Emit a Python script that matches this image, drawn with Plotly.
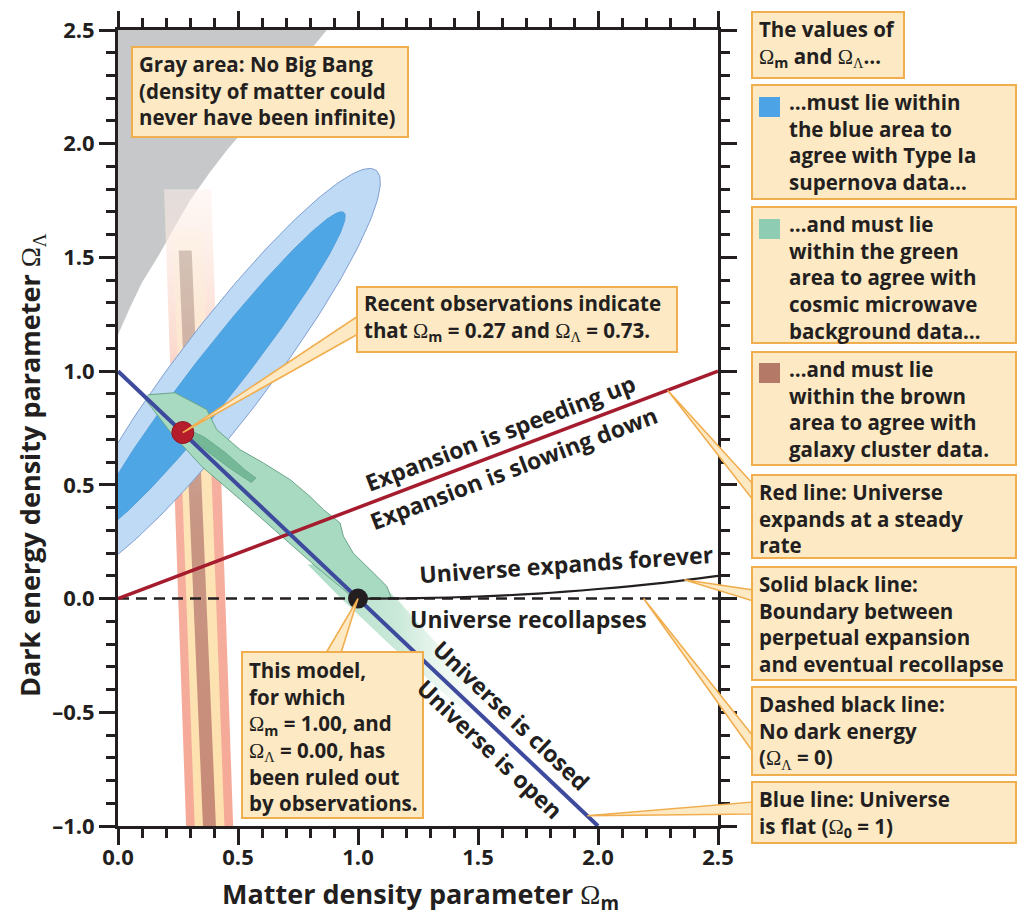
import numpy as np
import plotly.graph_objects as go

# ---------------- data ----------------
x_tick_vals = [0.0, 0.5, 1.0, 1.5, 2.0, 2.5]
x_tick_text = ["0.0", "0.5", "1.0", "1.5", "2.0", "2.5"]
y_tick_vals = [-1.0, -0.5, 0.0, 0.5, 1.0, 1.5, 2.0, 2.5]
y_tick_text = ["\u20131.0", "\u20130.5", "0.0", "0.5", "1.0", "1.5", "2.0", "2.5"]

# gray "no big bang" boundary
nobang_om = [0.0, 0.05, 0.10, 0.17, 0.24, 0.30, 0.38, 0.46, 0.56, 0.66, 0.76, 0.87]
nobang_ol = [1.16, 1.28, 1.39, 1.51, 1.64, 1.75, 1.87, 1.98, 2.10, 2.23, 2.36, 2.50]

# supernova confidence ellipses: centre, semi-major vector, semi-minor vector
sn_outer_center = (0.432, 0.99)
sn_outer_major = (0.643, 0.893)
sn_outer_minor = (-0.153, 0.122)
sn_inner_center = (0.42, 0.995)
sn_inner_major = (0.521, 0.703)
sn_inner_minor = (-0.078, 0.064)

# CMB region
cmb_om = [0.125, 0.2375, 0.37, 0.411, 0.508, 0.606, 0.717, 0.80, 0.856, 0.925, 0.939, 0.98, 1.064, 1.12, 1.14,
          0.985, 0.82, 0.665, 0.51, 0.349, 0.22, 0.14, 0.11]
cmb_ol = [0.896, 0.905, 0.831, 0.743, 0.655, 0.596, 0.523, 0.449, 0.391, 0.333, 0.274, 0.20, 0.113, 0.054, 0.0,
          0.0, 0.145, 0.29, 0.435, 0.581, 0.73, 0.84, 0.88]
cmb_core_om = [0.29, 0.36, 0.45, 0.53, 0.575, 0.555, 0.47, 0.38, 0.31]
cmb_core_ol = [0.745, 0.71, 0.64, 0.565, 0.53, 0.51, 0.57, 0.64, 0.70]
cmb_tail_om = [1.01, 1.16, 1.33, 1.50, 1.64, 1.56, 1.34, 1.13, 0.93, 0.79]
cmb_tail_ol = [0.15, 0.0, -0.2, -0.4, -0.6, -0.6, -0.4, -0.2, 0.0, 0.15]

# galaxy cluster bands (corner points)
gc_outer_om = [0.192, 0.388, 0.483, 0.287]
gc_outer_ol = [1.80, 1.80, -1.1, -1.1]
gc_mid_om = [0.228, 0.352, 0.447, 0.323]
gc_mid_ol = [1.62, 1.62, -1.1, -1.1]
gc_core_om = [0.253, 0.307, 0.412, 0.358]
gc_core_ol = [1.53, 1.53, -1.1, -1.1]

# model lines
flat_om = [0.0, 2.0]
flat_ol = [1.0, -1.0]
steady_om = [0.0, 2.5]
steady_ol = [0.0, 1.0]
nolambda_om = [0.0, 2.5]
nolambda_ol = [0.0, 0.0]
bound_om = [1.0, 1.25, 1.5, 1.75, 2.0, 2.25, 2.5]
bound_ol = [0.0, 0.002, 0.009, 0.022, 0.042, 0.067, 0.100]

# special points
obs_point = (0.27, 0.73)
model_point = (1.00, 0.00)

# ---------------- helpers ----------------
INK = "#231f20"
BOX_FILL = "#fde9c4"
BOX_LINE = "#f1ae4f"
FONT = "Open Sans, Noto Sans, sans-serif"
BOX_SIZE = 20.5
LABEL_SIZE = 23


def px2p(px, py):
    return ((px - 118) / 600.0, (826 - py) / 796.0)


def d2p(x, y):
    return (x / 2.5, (y + 1.0) / 3.5)


def ellipse(center, major, minor, n=200):
    t = np.linspace(0, 2 * np.pi, n)
    xs = center[0] + major[0] * np.cos(t) + minor[0] * np.sin(t)
    ys = center[1] + major[1] * np.cos(t) + minor[1] * np.sin(t)
    return xs, ys


OMG = '<span style="font-family:Liberation Serif;font-weight:normal">\u03a9</span>'
LAM = '<span style="font-family:Liberation Serif;font-weight:normal">\u039b</span>'
Om = OMG + "<sub>m</sub>"
OL = OMG + "<sub>" + LAM + "</sub>"
O0 = OMG + "<sub>0</sub>"

fig = go.Figure()

# gray region
fig.add_trace(go.Scatter(x=nobang_om + [0.0], y=nobang_ol + [2.5], fill="toself", mode="lines",
                         line=dict(width=0), fillcolor="#c7c8ca", hoverinfo="skip"))

# galaxy cluster bands
fig.add_trace(go.Scatter(x=gc_outer_om, y=gc_outer_ol, fill="toself", mode="lines", line=dict(width=0),
                         fillgradient=dict(type="vertical",
                                           colorscale=[[0, "rgb(245,168,150)"], [0.6, "rgb(246,176,160)"],
                                                       [0.74, "rgb(251,215,203)"], [1, "rgba(253,240,234,0.5)"]]),
                         hoverinfo="skip"))
fig.add_trace(go.Scatter(x=gc_mid_om, y=gc_mid_ol, fill="toself", mode="lines", line=dict(width=0),
                         fillgradient=dict(type="vertical",
                                           colorscale=[[0, "rgb(253,224,172)"], [0.62, "rgb(253,228,184)"],
                                                       [1, "rgba(253,242,226,0.4)"]]),
                         hoverinfo="skip"))
fig.add_trace(go.Scatter(x=gc_core_om, y=gc_core_ol, fill="toself", mode="lines", line=dict(width=0),
                         fillgradient=dict(type="vertical",
                                           colorscale=[[0, "rgb(199,138,118)"], [0.55, "rgb(200,150,132)"],
                                                       [1, "rgb(212,194,182)"]]),
                         hoverinfo="skip"))

# supernova ellipses
ex, ey = ellipse(sn_outer_center, sn_outer_major, sn_outer_minor)
fig.add_trace(go.Scatter(x=ex, y=ey, fill="toself", mode="lines", line=dict(color="#7f9ed3", width=1),
                         fillcolor="#bfdaf4", hoverinfo="skip"))
ex, ey = ellipse(sn_inner_center, sn_inner_major, sn_inner_minor)
fig.add_trace(go.Scatter(x=ex, y=ey, fill="toself", mode="lines", line=dict(color="#4a9ad8", width=0.8),
                         fillcolor="#4fa6e4", hoverinfo="skip"))

# CMB
fig.add_trace(go.Scatter(x=cmb_tail_om, y=cmb_tail_ol, fill="toself", mode="lines", line=dict(width=0),
                         fillgradient=dict(type="horizontal",
                                           colorscale=[[0, "rgba(165,218,192,0.95)"], [0.45, "rgba(190,228,208,0.8)"],
                                                       [1, "rgba(255,255,255,0)"]]),
                         hoverinfo="skip"))
fig.add_trace(go.Scatter(x=cmb_om, y=cmb_ol, fill="toself", mode="lines", line=dict(color="#6aa58b", width=1),
                         fillcolor="#a8dac1", hoverinfo="skip"))
fig.add_trace(go.Scatter(x=cmb_core_om, y=cmb_core_ol, fill="toself", mode="lines",
                         line=dict(color="#5c9e82", width=0.6), fillcolor="#74b898", hoverinfo="skip"))

# lines
fig.add_trace(go.Scatter(x=nolambda_om, y=nolambda_ol, mode="lines",
                         line=dict(color=INK, width=2.5, dash="11px,7px"), hoverinfo="skip"))
fig.add_trace(go.Scatter(x=bound_om, y=bound_ol, mode="lines", line=dict(color=INK, width=2.2, shape="spline"),
                         hoverinfo="skip"))
fig.add_trace(go.Scatter(x=steady_om, y=steady_ol, mode="lines", line=dict(color="#a51c2f", width=3.5),
                         hoverinfo="skip"))
fig.add_trace(go.Scatter(x=flat_om, y=flat_ol, mode="lines", line=dict(color="#3e4a9e", width=4),
                         hoverinfo="skip"))

# points
fig.add_trace(go.Scatter(x=[obs_point[0]], y=[obs_point[1]], mode="markers",
                         marker=dict(size=22, color="#b51d2c", line=dict(color="#8e1522", width=1)),
                         hoverinfo="skip", cliponaxis=False))
fig.add_trace(go.Scatter(x=[model_point[0]], y=[model_point[1]], mode="markers",
                         marker=dict(size=20, color=INK), hoverinfo="skip", cliponaxis=False))

shapes = []
annotations = []


def wedge(tip, b1, b2):
    pts = [tip, px2p(*b1), px2p(*b2)]
    path = "M {} {} L {} {} L {} {} Z".format(pts[0][0], pts[0][1], pts[1][0], pts[1][1], pts[2][0], pts[2][1])
    shapes.append(dict(type="path", xref="paper", yref="paper", path=path, fillcolor=BOX_FILL,
                       line=dict(color=BOX_LINE, width=1.6), layer="above"))


# pointer wedges
wedge(d2p(*obs_point), (358, 316), (358, 334))
wedge(d2p(*model_point), (326, 653), (341, 653))
wedge(d2p(2.29, 0.4 * 2.29), (753, 484), (753, 500))
wedge(d2p(2.36, 0.083), (753, 590), (753, 601))
wedge(d2p(2.19, 0.0), (753, 736), (753, 752))
wedge(d2p(1.955, -0.955), (753, 802), (753, 814))


def box(x0, y0, x1, y1):
    a = px2p(x0, y0)
    b = px2p(x1, y1)
    shapes.append(dict(type="rect", xref="paper", yref="paper", x0=a[0], y0=b[1], x1=b[0], y1=a[1],
                       fillcolor=BOX_FILL, line=dict(color=BOX_LINE, width=2), layer="above"))


def text(px, py, s, size=BOX_SIZE):
    p = px2p(px, py)
    annotations.append(dict(xref="paper", yref="paper", x=p[0], y=p[1], xanchor="left", yanchor="top",
                            text=s, showarrow=False, align="left",
                            font=dict(family=FONT, size=size, color=INK, weight=700)))


def square(x0, y0, color):
    a = px2p(x0, y0)
    b = px2p(x0 + 21, y0 + 20)
    shapes.append(dict(type="rect", xref="paper", yref="paper", x0=a[0], y0=b[1], x1=b[0], y1=a[1],
                       fillcolor=color, line=dict(width=0), layer="above"))


boxes = [
    ((132, 47, 408, 137), (137, 48), "Gray area: No Big Bang<br>(density of matter could<br>never have been infinite)"),
    ((357, 287, 677, 352), (362, 287), "Recent observations indicate<br>that " + Om + " = 0.27 and " + OL + " = 0.73."),
    ((242, 652, 423, 818), (247, 654), "This model,<br>for which<br>" + Om + " = 1.00, and<br>" + OL +
     " = 0.00, has<br>been ruled out<br>by observations."),
    ((752, 12, 904, 78), (757, 13), "The values of<br>" + Om + " and " + OL + "\u2026"),
    ((752, 85, 1016, 199), (787, 86), "\u2026must lie within<br>the blue area to<br>agree with Type Ia<br>supernova data\u2026"),
    ((752, 207, 1016, 343), (787, 208), "\u2026and must lie<br>within the green<br>area to agree with<br>cosmic microwave<br>background data\u2026"),
    ((752, 352, 1016, 465), (787, 353), "\u2026and must lie<br>within the brown<br>area to agree with<br>galaxy cluster data."),
    ((752, 475, 1016, 558), (757, 476), "Red line: Universe<br>expands at a steady<br>rate"),
    ((752, 567, 1016, 680), (757, 568), "Solid black line:<br>Boundary between<br>perpetual expansion<br>and eventual recollapse"),
    ((752, 687, 1016, 775), (757, 688), "Dashed black line:<br>No dark energy<br>(" + OL + " = 0)"),
    ((752, 782, 1016, 843), (757, 783), "Blue line: Universe<br>is flat (" + O0 + " = 1)"),
]
for (bx, tp, s) in boxes:
    box(*bx)
    text(tp[0], tp[1], s)

square(759, 97, "#4ca3e6")
square(759, 219, "#8ecdb4")
square(759, 363, "#b57a67")


# in-plot labels
def label(x, y, s, angle=0, size=LABEL_SIZE):
    annotations.append(dict(xref="x", yref="y", x=x, y=y, text=s, showarrow=False, textangle=angle,
                            xanchor="center", yanchor="middle",
                            font=dict(family=FONT, size=size, color=INK, weight=700)))


label(1.59, 0.729, "Expansion is speeding up", angle=-20.8)
label(1.646, 0.575, "Expansion is slowing down", angle=-20.8)
label(1.867, 0.15, "Universe expands forever", angle=-4)
label(1.71, -0.092, "Universe recollapses")
label(1.638, -0.514, "Universe is closed", angle=43.5)
label(1.55, -0.663, "Universe is open", angle=43.5)

# axis titles
p = px2p(420, 895)
annotations.append(dict(xref="paper", yref="paper", x=p[0], y=p[1], xanchor="center", yanchor="middle",
                        text="Matter density parameter " + Om, showarrow=False,
                        font=dict(family=FONT, size=27, color=INK, weight=700)))
p = px2p(30, 465)
annotations.append(dict(xref="paper", yref="paper", x=p[0], y=p[1], xanchor="center", yanchor="middle",
                        text="Dark energy density parameter " + OL, showarrow=False, textangle=-90,
                        font=dict(family=FONT, size=27, color=INK, weight=700)))

axis_common = dict(showgrid=False, zeroline=False, showline=True, linecolor=INK, linewidth=3,
                   mirror="allticks", ticks="outside", ticklen=16, tickwidth=2.5, tickcolor=INK,
                   tickfont=dict(family=FONT, size=22, color=INK, weight=700),
                   minor=dict(dtick=0.1, ticks="outside", ticklen=9, tickwidth=2.5, tickcolor=INK, showgrid=False))

fig.update_layout(
    width=1024, height=920, margin=dict(l=118, r=306, t=30, b=94),
    paper_bgcolor="white", plot_bgcolor="white", showlegend=False,
    xaxis=dict(range=[0, 2.5], tickmode="array", tickvals=x_tick_vals, ticktext=x_tick_text,
               ticklabelstandoff=-6, **axis_common),
    yaxis=dict(range=[-1.0, 2.5], tickmode="array", tickvals=y_tick_vals, ticktext=y_tick_text, **axis_common),
    shapes=shapes, annotations=annotations,
)

fig.write_html("out.html")
